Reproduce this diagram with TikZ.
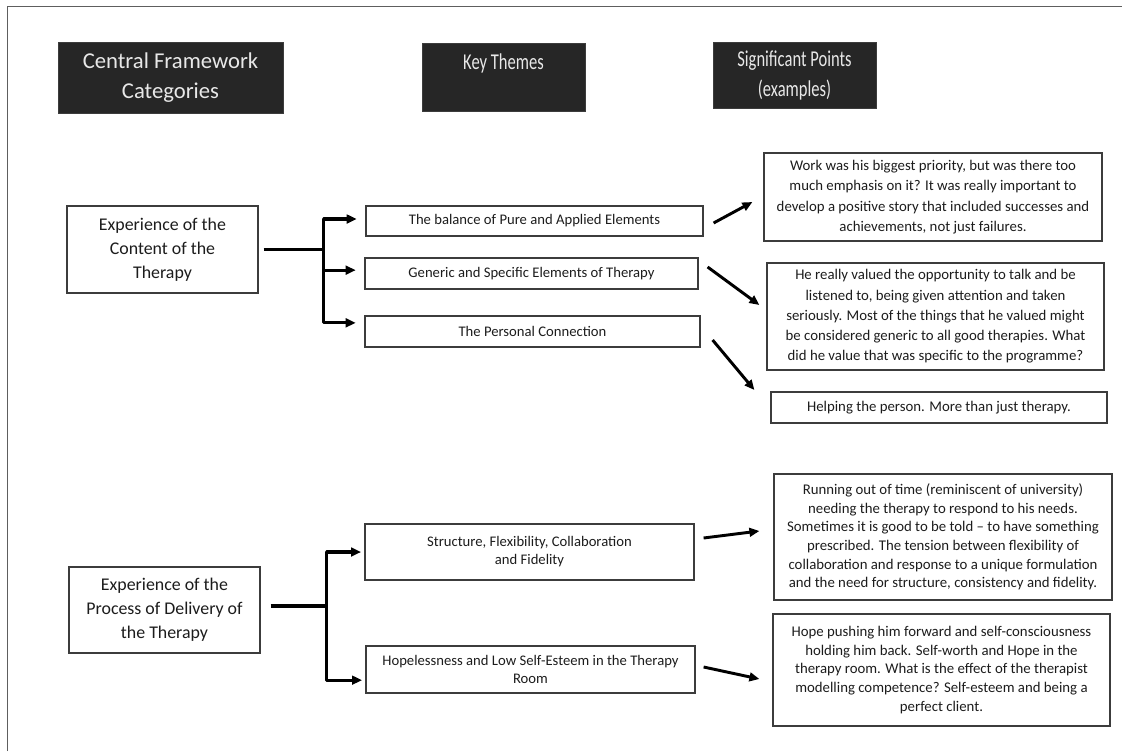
\documentclass[tikz,border=0pt]{standalone}
\usepackage{fontspec}
\usepackage{graphicx}
\setmainfont{Carlito}
\usetikzlibrary{arrows.meta,calc}

\definecolor{hdrfill}{HTML}{262626}
\definecolor{hdrtext}{HTML}{E8E8E8}
\definecolor{boxline}{HTML}{3C3C3C}
\definecolor{framegray}{HTML}{5E5E5E}
\definecolor{ink}{HTML}{1C1C1C}

% box given by its pixel corners: name, x1, y1, x2, y2, style, text
\newcommand\pbx[7]{%
  \node[#6, minimum width={(#4-#2)*0.75pt}, minimum height={(#5-#3)*0.75pt}]
    (#1) at ({(#2+#4)/2},{(#3+#5)/2}) {#7};}
% narrow lettering used in two of the headings
\newcommand\narrow[1]{\scalebox{0.73}[1]{#1}}

\begin{document}
\begin{tikzpicture}[x=0.75pt, y=-0.75pt,
  frame/.style={draw=framegray, line width=1.1pt},
  header/.style={fill=hdrfill, draw=boxline, line width=0.6pt, text=hdrtext,
    font=\fontsize{17}{22.5}\selectfont, align=center, inner sep=0pt},
  catbox/.style={draw=boxline, line width=0.9pt, text=ink,
    font=\fontsize{13.4}{18}\selectfont, align=center, inner sep=0pt},
  themebox/.style={draw=boxline, line width=0.9pt, text=ink,
    font=\fontsize{11}{13.5}\selectfont, align=center, inner sep=0pt},
  pointbox/.style={draw=boxline, line width=0.9pt, text=ink,
    font=\fontsize{11.1}{13.9}\selectfont, align=center, inner sep=0pt},
  loosepointbox/.style={pointbox, font=\fontsize{11.1}{15.2}\selectfont},
  stem/.style={draw=black, line width=2.4pt},
  branch/.style={draw=black, line width=2.4pt, line join=round,
    -{Triangle[length=7.5pt, width=6.5pt]}},
  pointer/.style={draw=black, line width=2.2pt,
    -{Triangle[length=7.5pt, width=6.5pt]}}
]
\useasboundingbox (0,0) rectangle (1122,751);

% page frame (top and left edges)
\draw[frame] (7.5,751) -- (7.5,6.5) -- (1122,6.5);

% column headings
\pbx{h1}{58}{42}{283}{113}{header}{Central Framework\\Categories}
\pbx{h2}{422}{43}{585}{111}{header}{\narrow{Key Themes}\\\mbox{}}
\pbx{h3}{713}{42}{876}{108}{header}{\narrow{Significant Points}\\\narrow{(examples)}}

% central framework categories
\pbx{c1}{67}{206}{258}{293}{catbox}{Experience of the\\Content of the\\Therapy}
\pbx{c2}{69}{567}{260}{653}{catbox}{Experience of the\\Process of Delivery of\\the Therapy}

% key themes
\pbx{k1}{366}{206}{703}{236}{themebox}{The balance of Pure and Applied Elements}
\pbx{k2}{365}{258}{698}{289}{themebox}{Generic and Specific Elements of Therapy}
\pbx{k3}{365}{316}{700}{347}{themebox}{The Personal Connection}
\pbx{k4}{365}{524}{694}{580}{themebox}{Structure, Flexibility, Collaboration\\and Fidelity}
\pbx{k5}{366}{646}{695}{693}{themebox}{Hopelessness and Low Self-Esteem in the Therapy\\Room}

% significant points
\pbx{p1}{764}{153}{1102}{241}{loosepointbox}{Work was his biggest priority, but was there too\\much emphasis on it? It was really important to\\develop a positive story that included successes and\\achievements, not just failures.}
\pbx{p2}{767}{263}{1104}{370}{loosepointbox}{He really valued the opportunity to talk and be\\listened to, being given attention and taken\\seriously. Most of the things that he valued might\\be considered generic to all good therapies. What\\did he value that was specific to the programme?}
\pbx{p3}{771}{392}{1107}{423}{pointbox}{Helping the person. More than just therapy.}
\pbx{p4}{774}{474}{1112}{600}{pointbox}{Running out of time (reminiscent of university)\\needing the therapy to respond to his needs.\\Sometimes it is good to be told -- to have something\\prescribed. The tension between flexibility of\\collaboration and response to a unique formulation\\and the need for structure, consistency and fidelity.}
\pbx{p5}{773}{614}{1110}{726}{pointbox}{Hope pushing him forward and self-consciousness\\holding him back. Self-worth and Hope in the\\therapy room. What is the effect of the therapist\\modelling competence? Self-esteem and being a\\perfect client.}

% branching from the first category
\path (c1.east) ++(65,0) coordinate (j1);
\draw[stem, shorten <=3.75pt] (c1.east) -- (j1);
\draw[branch, shorten >=6.5pt] (j1) |- ([yshift=1.5pt]k1.west);
\draw[branch, shorten >=6.5pt] (j1) |- ([yshift=2.5pt]k2.west);
\draw[branch, shorten >=6.5pt] (j1) |- ([yshift=6.5pt]k3.west);

% branching from the second category
\path ([yshift=3pt]c2.east) ++(66,0) coordinate (j2);
\draw[stem, shorten <=7.5pt] ([yshift=3pt]c2.east) -- (j2);
\draw[branch, shorten >=2.5pt] (j2) |- (k4.west);
\draw[branch, shorten >=2.5pt] (j2) |- ([yshift=-8pt]k5.west);

% themes to their examples
\draw[pointer] ($(k1.east)+(10,2)$) -- ($(p1.west)+(-11,5)$);
\draw[pointer] ($(k2.east)+(9,-6.5)$) -- ($(p2.west)+(-7,-11.5)$);
\draw[pointer] ($(k3.east)+(12,8.5)$) -- ($(p3.west)+(-16,-17.5)$);
\draw[pointer] ($(k4.east)+(9,-14)$) -- ($(p4.west)+(-14,-6)$);
\draw[pointer] ($(k5.east)+(8,-2.5)$) -- ($(p5.west)+(-13,9)$);
\end{tikzpicture}
\end{document}
